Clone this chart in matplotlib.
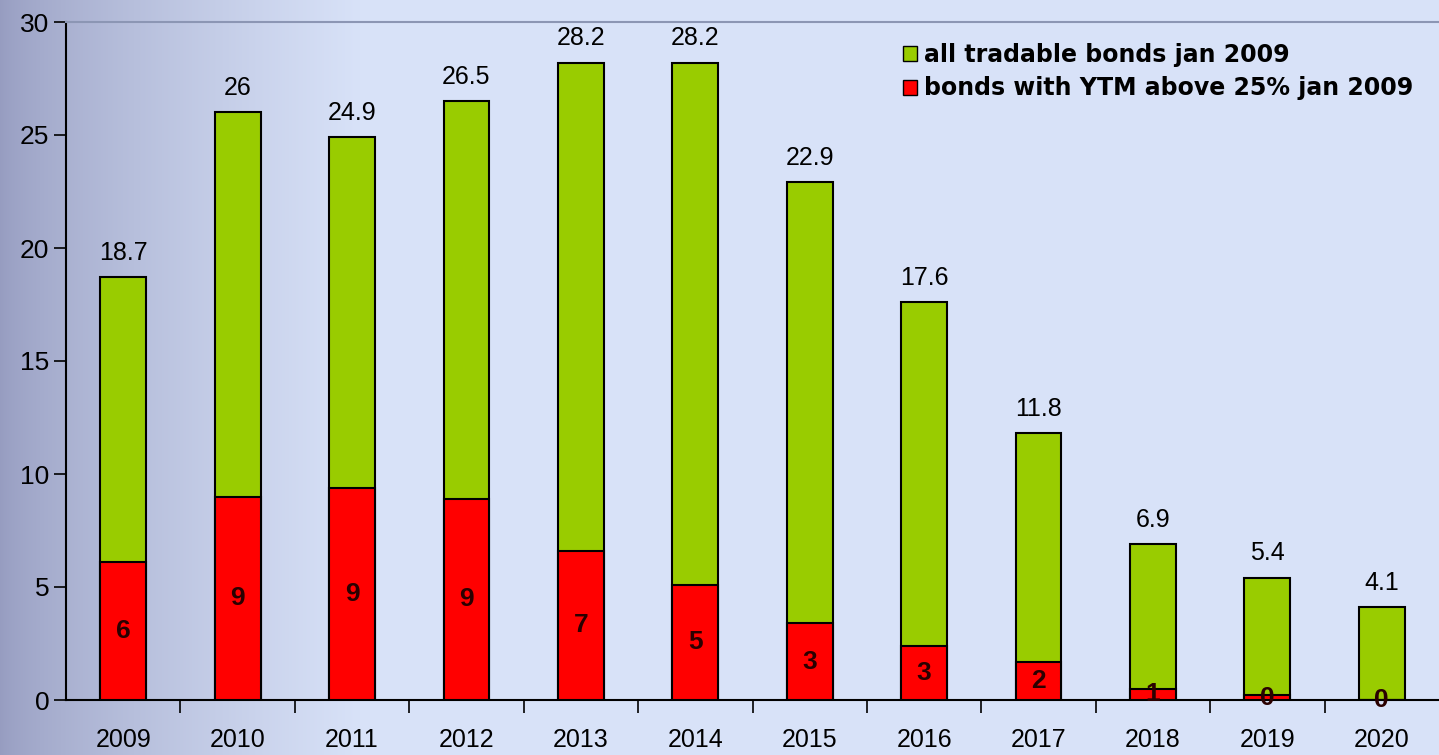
import matplotlib.pyplot as plt
import numpy as np
from matplotlib.patches import Patch

# data
years = ['2009', '2010', '2011', '2012', '2013', '2014', '2015', '2016', '2017', '2018', '2019', '2020']
all_bonds = [18.7, 26, 24.9, 26.5, 28.2, 28.2, 22.9, 17.6, 11.8, 6.9, 5.4, 4.1]
high_ytm = [6.1, 9.0, 9.4, 8.9, 6.6, 5.1, 3.4, 2.4, 1.7, 0.5, 0.2, 0.0]
high_ytm_labels = ['6', '9', '9', '9', '7', '5', '3', '3', '2', '1', '0', '0']
legend_labels = ['all tradable bonds jan 2009', 'bonds with YTM above 25% jan 2009']

plt.rcParams['font.family'] = ['Liberation Sans', 'DejaVu Sans']

fig = plt.figure(figsize=(14.39, 7.55), dpi=100)

# background gradient (darker on the left, light blue elsewhere)
bg = fig.add_axes([0, 0, 1, 1], zorder=0)
xs = np.linspace(0, 1, 1439)
left_col = np.array([150, 156, 192]) / 255
right_col = np.array([216, 226, 248]) / 255
t = np.clip(xs / 0.25, 0, 1) ** 0.7
row = left_col[None, :] * (1 - t[:, None]) + right_col[None, :] * t[:, None]
img = np.tile(row[None, :, :], (50, 1, 1))
bg.imshow(img, aspect='auto', extent=[0, 1, 0, 1])
bg.axis('off')

ax = fig.add_axes([66 / 1439, 1 - 700 / 755, 1 - 66 / 1439, (700 - 22) / 755], zorder=1)
ax.set_facecolor('none')

x = np.arange(len(years))
width = 0.4
ax.bar(x, all_bonds, width, color='#99cc00', edgecolor='black', linewidth=1.5, zorder=2)
ax.bar(x, high_ytm, width, color='#ff0000', edgecolor='black', linewidth=1.5, zorder=3)

for xi, v in zip(x, all_bonds):
    ax.annotate(f'{v:g}', (xi, v), textcoords='offset points', xytext=(0, 9),
                ha='center', va='bottom', fontsize=18)

for xi, v, lab in zip(x, high_ytm, high_ytm_labels):
    ax.text(xi, v / 2, lab, ha='center', va='center', fontsize=19,
            fontweight='bold', color='#2a0000', zorder=4)

ax.set_xlim(-0.5, len(years) - 0.5)
ax.set_ylim(0, 30)
ax.set_yticks(np.arange(0, 31, 5))
ax.tick_params(axis='y', labelsize=19, length=9, width=1.2, pad=3)
ax.set_xticks(x)
ax.set_xticklabels(years)
ax.set_xticks(np.arange(0.5, len(years) - 0.5, 1), minor=True)
ax.tick_params(axis='x', which='major', length=0, labelsize=18, pad=20)
ax.tick_params(axis='x', which='minor', length=9, width=1.2, direction='out')

ax.spines['right'].set_visible(False)
ax.spines['top'].set_color('#8c96b4')
ax.spines['top'].set_linewidth(1.5)
ax.spines['left'].set_linewidth(1.5)
ax.spines['bottom'].set_linewidth(1.5)

handles = [Patch(facecolor='#99cc00', edgecolor='black'),
           Patch(facecolor='#ff0000', edgecolor='black')]
leg = ax.legend(handles, legend_labels, loc='upper left',
                bbox_to_anchor=(903 / 1439, 1 - 43 / 755), bbox_transform=fig.transFigure,
                frameon=False, handlelength=0.6, handleheight=0.6, handletextpad=0.3,
                labelspacing=0.4, borderpad=0, borderaxespad=0,
                prop={'size': 17, 'weight': 'bold', 'family': 'DejaVu Sans'})

plt.savefig('out.png', dpi=100)
